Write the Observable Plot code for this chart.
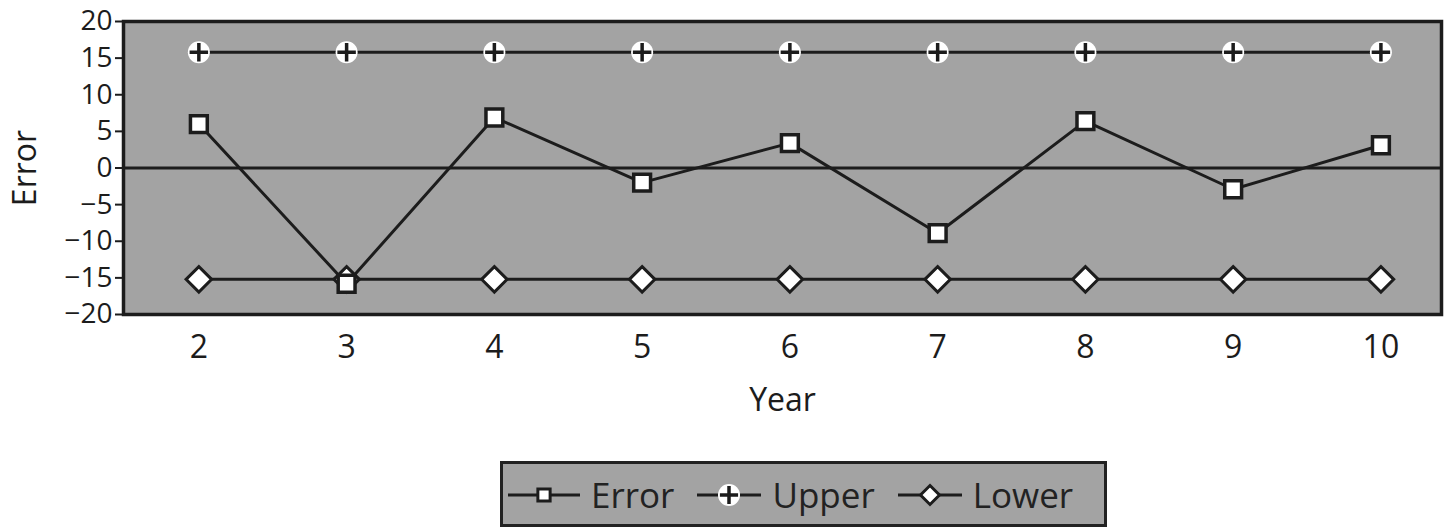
<!DOCTYPE html>
<html>
<head>
<meta charset="utf-8">
<script src="https://cdn.jsdelivr.net/npm/d3@7"></script>
<script src="https://cdn.jsdelivr.net/npm/@observablehq/plot@0.6"></script>
<style>
  html, body { margin: 0; padding: 0; background: #fff; }
  body { width: 1450px; height: 529px; position: relative; font-family: "Open Sans", sans-serif; color: #222; }
  #chart svg { display: block; }
  #legend {
    position: absolute; left: 500px; top: 461px; width: 597px; height: 60px;
    background: #a3a3a3; border: 3px solid #222;
    display: flex; align-items: center; justify-content: flex-start; gap: 22px;
    padding-left: 4px; box-sizing: content-box;
    font-size: 35px; line-height: 1;
  }
  #legend .item { display: flex; align-items: center; gap: 10px; }
  #legend svg { display: block; }
</style>
</head>
<body>
<div id="chart"></div>
<div id="legend"></div>
<script>
// Forecast error by year, with upper and lower control limits
const years = [2, 3, 4, 5, 6, 7, 8, 9, 10];
const errorValues = [6.0, -15.8, 6.9, -2.0, 3.4, -8.9, 6.4, -2.9, 3.1];
const upperValues = [15.8, 15.8, 15.8, 15.8, 15.8, 15.8, 15.8, 15.8, 15.8];
const lowerValues = [-15.2, -15.2, -15.2, -15.2, -15.2, -15.2, -15.2, -15.2, -15.2];
const seriesNames = ["Error", "Upper", "Lower"];
const yTicks = [-20, -15, -10, -5, 0, 5, 10, 15, 20];

const ink = "#1c1c1c";
const panel = "#a3a3a3";

const toRows = (name, values) => years.map((year, i) => ({series: name, year, value: values[i]}));
const errorRows = toRows("Error", errorValues);
const upperRows = toRows("Upper", upperValues);
const lowerRows = toRows("Lower", lowerValues);

const chart = Plot.plot({
  width: 1450,
  height: 440,
  marginLeft: 123,
  marginRight: 9,
  marginTop: 21,
  marginBottom: 126,
  style: {fontFamily: "'Open Sans', sans-serif", fontSize: "32px", color: ink, background: "white"},
  x: {domain: [1.49, 10.41]},
  y: {domain: [-20, 20]},
  marks: [
    Plot.frame({fill: panel}),
    Plot.ruleY([0], {stroke: ink, strokeWidth: 3}),
    Plot.line(upperRows, {x: "year", y: "value", stroke: ink, strokeWidth: 3}),
    Plot.line(lowerRows, {x: "year", y: "value", stroke: ink, strokeWidth: 3}),
    Plot.line(errorRows, {x: "year", y: "value", stroke: ink, strokeWidth: 3}),
    // Upper: white halo with a dark cross
    Plot.dot(upperRows, {x: "year", y: "value", r: 11, fill: "white", stroke: "none"}),
    Plot.dot(upperRows, {x: "year", y: "value", symbol: "plus", r: 6, stroke: ink, strokeWidth: 3.5}),
    // Lower: open diamonds
    Plot.dot(lowerRows, {x: "year", y: "value", symbol: "diamond2", r: 11.5, fill: "white", stroke: ink, strokeWidth: 3}),
    // Error: open squares
    Plot.dot(errorRows, {x: "year", y: "value", symbol: "square", r: 9.5, fill: "white", stroke: ink, strokeWidth: 3.5}),
    Plot.frame({stroke: ink, strokeWidth: 3.5}),
    Plot.axisY({ticks: yTicks, tickSize: 8, tickPadding: 3, stroke: ink, strokeWidth: 2, tickFormat: d3.format("d"),
                fontSize: 28, label: null}),
    Plot.text(["Error"], {frameAnchor: "left", textAnchor: "middle", dx: -98, rotate: -90, fontSize: 32, fill: ink}),
    Plot.axisX({ticks: years, tickSize: 0, tickPadding: 21, tickFormat: d3.format("d"),
                label: "Year", labelAnchor: "center", labelOffset: 96, labelArrow: "none"})
  ]
});
document.getElementById("chart").append(chart);

// Legend: line-and-marker swatch followed by the series name
const legend = d3.select("#legend");
for (const name of seriesNames) {
  const item = legend.append("div").attr("class", "item");
  const w = name === "Error" ? 74 : 66;
  const sw = item.append("svg").attr("width", w).attr("height", 30);
  sw.append("line").attr("x1", 1).attr("x2", w - 1).attr("y1", 16).attr("y2", 16)
    .attr("stroke", ink).attr("stroke-width", 3);
  const g = sw.append("g").attr("transform", `translate(${w / 2},16)`);
  if (name === "Error") {
    g.append("path").attr("d", d3.symbol(d3.symbolSquare, 150)()).attr("fill", "white").attr("stroke", ink).attr("stroke-width", 3);
  } else if (name === "Upper") {
    g.append("circle").attr("r", 11).attr("fill", "white");
    g.append("path").attr("d", d3.symbol(d3.symbolPlus, 110)()).attr("fill", "none").attr("stroke", ink).attr("stroke-width", 3.5);
  } else {
    g.append("path").attr("d", d3.symbol(d3.symbolDiamond2, 230)()).attr("fill", "white").attr("stroke", ink).attr("stroke-width", 3);
  }
  item.append("span").text(name);
}
</script>
</body>
</html>
